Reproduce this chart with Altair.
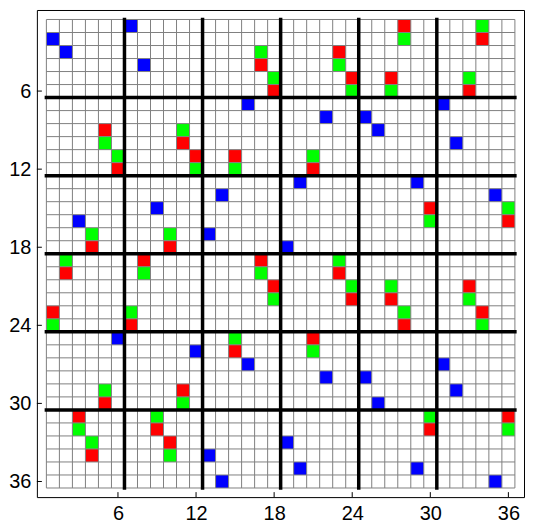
import altair as alt
import pandas as pd

# ---- data (row, column) of coloured cells; row 1 at top ----
tick_values = [6, 12, 18, 24, 30, 36]
block_lines = [6.5, 12.5, 18.5, 24.5, 30.5]
grid_lines = [k + 0.5 for k in range(0, 37)]

blue_cells = [(1, 7), (2, 1), (3, 2), (4, 8), (7, 16), (8, 22), (7, 31), (8, 25),
              (9, 26), (10, 32), (13, 20), (13, 29), (14, 14), (14, 35), (15, 9),
              (16, 3), (17, 13), (18, 19), (25, 6), (26, 12), (27, 16), (28, 22),
              (27, 31), (28, 25), (29, 32), (30, 26), (33, 19), (34, 13), (35, 20),
              (36, 14), (35, 29), (36, 35)]

red_cells = [(9, 5), (12, 6), (10, 11), (11, 12), (4, 17), (6, 18), (3, 23), (11, 15),
             (12, 21), (5, 24), (1, 28), (2, 34), (5, 27), (6, 33), (16, 36), (15, 30),
             (18, 4), (18, 10), (20, 2), (19, 8), (23, 1), (24, 7), (19, 17), (21, 18),
             (20, 23), (22, 24), (22, 27), (24, 28), (21, 33), (23, 34), (26, 15),
             (25, 21), (30, 5), (31, 3), (34, 4), (32, 9), (33, 10), (29, 11),
             (32, 30), (31, 36)]

green_cells = [(10, 5), (11, 6), (9, 11), (12, 12), (3, 17), (5, 18), (4, 23), (12, 15),
               (11, 21), (6, 24), (2, 28), (1, 34), (6, 27), (5, 33), (15, 36), (16, 30),
               (17, 4), (17, 10), (19, 2), (20, 8), (24, 1), (23, 7), (20, 17), (22, 18),
               (19, 23), (21, 24), (21, 27), (23, 28), (22, 33), (24, 34), (25, 15),
               (26, 21), (29, 5), (32, 3), (33, 4), (31, 9), (34, 10), (30, 11),
               (31, 30), (32, 36)]

kind_names = ["blue", "red", "green"]
kind_colors = ["#0000FF", "#FF0000", "#00FF00"]

records = []
for name, cells in zip(kind_names, [blue_cells, red_cells, green_cells]):
    for r, c in cells:
        records.append({"kind": name, "row": r, "col": c})
cells_df = pd.DataFrame(records)
grid_df = pd.DataFrame({"b": grid_lines})
block_df = pd.DataFrame({"b": block_lines})
tick_df = pd.DataFrame({"t": tick_values})

W = H = 489
dom = [-0.23, 37.2]
xs = alt.Scale(domain=dom, nice=False, zero=False)
ys = alt.Scale(domain=dom, nice=False, zero=False, reverse=True)

axis_common = dict(values=tick_values, ticks=False, domain=False, grid=False,
                   labelFontSize=20, labelFont="Liberation Sans", labelColor="black",
                   labelPadding=6, title=None, format="d", labelFlush=False)
AX = alt.Axis(**axis_common)

cells_layer = alt.Chart(cells_df).transform_calculate(
    x0="datum.col - 0.5", x1="datum.col + 0.5",
    y0="datum.row - 0.5", y1="datum.row + 0.5",
).mark_rect().encode(
    x=alt.X("x0:Q", scale=xs, axis=AX),
    x2="x1:Q",
    y=alt.Y("y0:Q", scale=ys, axis=AX),
    y2="y1:Q",
    color=alt.Color("kind:N", scale=alt.Scale(domain=kind_names, range=kind_colors), legend=None),
)

vgrid = alt.Chart(grid_df).mark_rule(color="#808080", strokeWidth=1).encode(
    x=alt.X("b:Q", scale=xs, axis=AX),
    y=alt.YDatum(0.5, scale=ys, axis=AX),
    y2=alt.datum(36.5),
)
hgrid = alt.Chart(grid_df).mark_rule(color="#808080", strokeWidth=1).encode(
    y=alt.Y("b:Q", scale=ys, axis=AX),
    x=alt.XDatum(0.5, scale=xs, axis=AX),
    x2=alt.datum(36.5),
)
vblock = alt.Chart(block_df).mark_rule(color="black", strokeWidth=3.5, strokeCap="square").encode(
    x=alt.X("b:Q", scale=xs, axis=AX),
    y=alt.YDatum(0.5, scale=ys, axis=AX),
    y2=alt.datum(36.5),
)
hblock = alt.Chart(block_df).mark_rule(color="black", strokeWidth=3.5, strokeCap="square").encode(
    y=alt.Y("b:Q", scale=ys, axis=AX),
    x=alt.XDatum(0.5, scale=xs, axis=AX),
    x2=alt.datum(36.5),
)
xticks = alt.Chart(tick_df).mark_rule(color="black", strokeWidth=1).encode(
    x=alt.X("t:Q", scale=xs, axis=AX),
    y=alt.value(H),
    y2=alt.value(H - 5),
)
yticks = alt.Chart(tick_df).mark_rule(color="black", strokeWidth=1).encode(
    y=alt.Y("t:Q", scale=ys, axis=AX),
    x=alt.value(0),
    x2=alt.value(5),
)

chart = alt.layer(cells_layer, vgrid, hgrid, vblock, hblock, xticks, yticks).properties(
    width=W, height=H,
    padding={"left": 0, "top": 1, "right": 1, "bottom": 0},
    background="white",
).configure_view(stroke="black", strokeWidth=1)

chart.save("out.html", embed_options={"renderer": "svg", "actions": False})
